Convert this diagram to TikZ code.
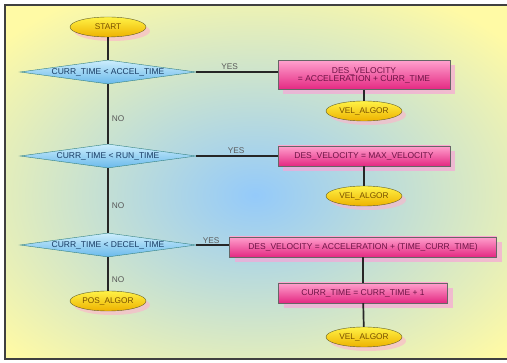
\documentclass[tikz,border=0pt]{standalone}
\usepackage{fontspec}
\setsansfont{Liberation Sans}
\usetikzlibrary{
  shapes,
  shadows
}

\definecolor{bgyellow}{RGB}{255,250,165}
\definecolor{bgblue}{RGB}{148,202,250}
\definecolor{termtop}{RGB}{255,242,70}
\definecolor{termbot}{RGB}{238,178,0}
\definecolor{termtext}{RGB}{120,80,0}
\definecolor{acttop}{RGB}{255,160,205}
\definecolor{actbot}{RGB}{228,40,130}
\definecolor{acttext}{RGB}{110,20,70}
\definecolor{dectop}{RGB}{205,238,252}
\definecolor{decbot}{RGB}{105,185,235}
\definecolor{dectext}{RGB}{25,60,100}

\tikzset{
  term/.style={ellipse, draw=olive!60!black, top color=termtop, bottom color=termbot,
    minimum width=76pt, minimum height=20pt, inner sep=0pt, text=termtext,
    font=\sffamily\fontsize{8.3}{9}\selectfont,
    drop shadow={shadow xshift=4pt, shadow yshift=-4pt, fill=orange!50!magenta!40, opacity=0.6}},
  decide/.style={diamond, aspect=7.3, draw=teal!60!gray, top color=dectop, bottom color=decbot,
    minimum width=176pt, minimum height=24pt, inner sep=0pt, text=dectext,
    font=\sffamily\fontsize{8.5}{9}\selectfont},
  action/.style={rectangle, draw=black!60, top color=acttop, bottom color=actbot,
    minimum height=20pt, inner sep=0pt, text=acttext, align=center,
    font=\sffamily\fontsize{8.5}{9}\selectfont,
    drop shadow={shadow xshift=5pt, shadow yshift=-5pt, fill=magenta!35, opacity=0.7}},
  lbl/.style={font=\sffamily\fontsize{8.3}{9}\selectfont, text=black!65, inner sep=1pt},
  link/.style={draw=black!85, line width=1.7pt}
}

\begin{document}
\begin{tikzpicture}[x=1pt,y=-1pt]
  \useasboundingbox (0,0) rectangle (507,363);
  % background
  \begin{scope}
    \clip (5,5) rectangle (507,360);
    \fill[bgyellow] (5,5) rectangle (507,360);
    \shade[inner color=bgblue, outer color=bgyellow] (255,195) ellipse (340pt and 230pt);
  \end{scope}
  \draw[black!75, line width=2pt] (507,5) -- (5,5) -- (5,359) -- (507,359);

  % left column
  \node[term] (start) at (108,27) {START};
  \node[decide] (accel) at (108,72) {CURR\_TIME < ACCEL\_TIME};
  \node[decide] (run) at (108,156) {CURR\_TIME < RUN\_TIME};
  \node[decide] (decel) at (108,245) {CURR\_TIME < DECEL\_TIME};
  \node[term] (pos) at (108,301) {POS\_ALGOR};

  % right column
  \node[action, minimum width=172pt, minimum height=29pt] (accvel) at (364,75)
    {DES\_VELOCITY\\[-1pt]= ACCELERATION + CURR\_TIME};
  \node[term] (vel1) at (364,111) {VEL\_ALGOR};
  \node[action, minimum width=172pt] (maxvel) at (364,156) {DES\_VELOCITY = MAX\_VELOCITY};
  \node[term] (vel2) at (364,196) {VEL\_ALGOR};
  \node[action, minimum width=267pt] (decvel) at (363,247)
    {DES\_VELOCITY = ACCELERATION + (TIME\_CURR\_TIME)};
  \node[action, minimum width=169pt] (incr) at (363,293) {CURR\_TIME = CURR\_TIME + 1};
  \node[term] (vel3) at (364,337) {VEL\_ALGOR};

  % connectors
  \draw[link] (start) -- (accel);
  \draw[link] (accel) -- node[lbl, pos=0.57, right=2pt] (no1) {NO} (run);
  \draw[link] (run) -- node[lbl, pos=0.58, right=2pt] (no2) {NO} (decel);
  \draw[link] (decel) -- node[lbl, pos=0.68, right=2pt] (no3) {NO} (pos);
  \draw[link] (accel.east) -- node[lbl, pos=0.41, above=1pt] (yes1) {YES} (accel.east -| accvel.west);
  \draw[link] (run.east) -- node[lbl, pos=0.49, above=1pt] (yes2) {YES} (maxvel.west);
  \draw[link] (decel.east) -- node[lbl, pos=0.45, above=0pt] (yes3) {YES} (decel.east -| decvel.west);
  \draw[link] (accvel) -- (vel1);
  \draw[link] (maxvel) -- (vel2);
  \draw[link] (decvel) -- (incr);
  \draw[link] (incr) -- (vel3);
\end{tikzpicture}
\end{document}
